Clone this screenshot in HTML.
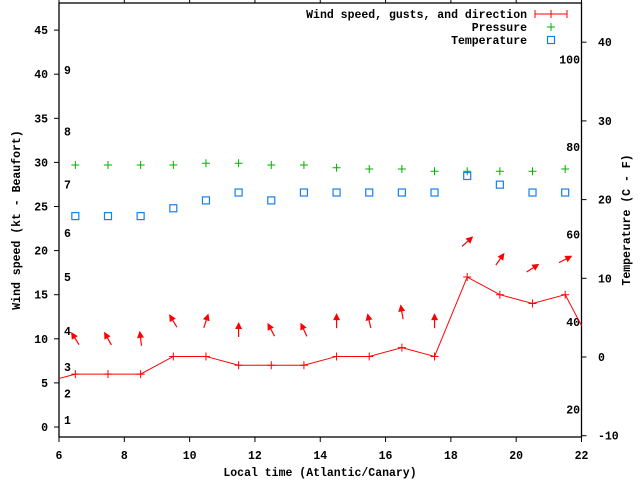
<!DOCTYPE html>
<html><head><meta charset="utf-8"><style>
html,body{margin:0;padding:0;background:#fff}
svg text{font-family:"Liberation Mono",monospace;font-size:11.5px;font-weight:bold;fill:#000}
</style></head><body>
<svg id="chart" width="640" height="480" xmlns="http://www.w3.org/2000/svg"></svg>
<script>
const hours=[6.5,7.5,8.5,9.5,10.5,11.5,12.5,13.5,14.5,15.5,16.5,17.5,18.5,19.5,20.5,21.5];
const windSpeed=[6,6,6,8,8,7,7,7,8,8,9,8,17,15,14,15];
const windEdgeHours=[5.5,22.5];
const windEdgeSpeed=[5,8];
const gusts=[10,10,10,12,12,11,11,11,12,12,13,12,21,19,18,19];
const windDir=[328,331,353,329,18,0,332,335,0,347,350,0,48,35,57,63];
const pressure=[29.7,29.7,29.7,29.7,29.9,29.9,29.7,29.7,29.4,29.25,29.25,29.0,29.0,29.0,29.0,29.25];
const temperature=[17.9,17.9,17.9,18.9,19.9,20.9,19.9,20.9,20.9,20.9,20.9,20.9,23,21.9,20.9,20.9];
const xTicks=[6,8,10,12,14,16,18,20,22];
const yTicks=[0,5,10,15,20,25,30,35,40,45];
const y2Ticks=[-10,0,10,20,30,40];
const fahrenheitLabels=[20,40,60,80,100];
const beaufortLabels=[1,2,3,4,5,6,7,8,9];
const beaufortY=[0.8,3.8,6.8,10.9,17,22,27.5,33.5,40.5];

const L=59,R=581.5,T=3,B=437;
const X=h=>L+(h-6)*(R-L)/16;
const Y=v=>427-v*8.82;
const Y2=c=>357-c*7.87;
const svg=document.getElementById('chart');
const NS='http://www.w3.org/2000/svg';
function mk(tag,attrs,parent){const e=document.createElementNS(NS,tag);for(const k in attrs)e.setAttribute(k,attrs[k]);(parent||svg).appendChild(e);return e;}
function txt(x,y,s,anchor,parent){const t=mk('text',{x:x,y:y,'text-anchor':anchor||'start'},parent);t.textContent=s;return t;}

const defs=mk('defs',{});
const cp=mk('clipPath',{id:'clip'},defs);
mk('rect',{x:L,y:T,width:R-L,height:B-T},cp);

// frame
const frame=mk('rect',{x:L,y:T,width:R-L,height:B-T,fill:'none',stroke:'#000','stroke-width':1.3});



// x ticks
xTicks.forEach(h=>{
  const g=mk('g',{});
  
  
  mk('line',{x1:X(h),x2:X(h),y1:B,y2:B+5,stroke:'#000'},g);
  mk('line',{x1:X(h),x2:X(h),y1:T,y2:T-4,stroke:'#000'},g);
  txt(X(h),459,String(h),'middle',g);
});
yTicks.forEach(v=>{
  const g=mk('g',{});
  
  
  mk('line',{x1:L-5,x2:L,y1:Y(v),y2:Y(v),stroke:'#000'},g);
  txt(48,Y(v)+4,String(v),'end',g);
});
y2Ticks.forEach(c=>{
  const g=mk('g',{});
  
  
  mk('line',{x1:R,x2:R+5,y1:Y2(c),y2:Y2(c),stroke:'#000'},g);
  txt(598,Y2(c)+4,String(c),'start',g);
});
fahrenheitLabels.forEach(f=>{
  const t=txt(580,Y2((f-32)*5/9)+4,String(f),'end');
  
  
});
beaufortLabels.forEach((b,i)=>{
  const t=txt(64,Y(beaufortY[i])+4,String(b),'start');
  
  
});

// titles
const xt=txt(320,476,'Local time (Atlantic/Canary)','middle');


const yt=txt(0,0,'Wind speed (kt - Beaufort)','middle');
yt.setAttribute('transform','translate(20,220) rotate(-90)');


const y2t=txt(0,0,'Temperature (C - F)','middle');
y2t.setAttribute('transform','translate(630,220) rotate(-90)');



const plot=mk('g',{'clip-path':'url(#clip)'});



// wind line
const allH=[windEdgeHours[0]].concat(hours,[windEdgeHours[1]]);
const allW=[windEdgeSpeed[0]].concat(windSpeed,[windEdgeSpeed[1]]);
const wl=mk('polyline',{points:allH.map((h,i)=>X(h)+','+Y(allW[i])).join(' '),fill:'none',stroke:'#f00','stroke-width':1},plot);


hours.forEach((h,i)=>{
  const p=mk('path',{d:`M${X(h)-4},${Y(windSpeed[i])}h8M${X(h)},${Y(windSpeed[i])-4}v8`,stroke:'#f00','stroke-width':1},plot);
  
  
});
// arrows
hours.forEach((h,i)=>{
  const a=windDir[i]*Math.PI/180,len=14;
  const cx=X(h),cy=Y(gusts[i]);
  const dx=Math.sin(a)*len/2,dy=-Math.cos(a)*len/2;
  const x1=cx-dx,y1=cy-dy,x2=cx+dx,y2=cy+dy;
  const g=mk('g',{},plot);
  
  
  mk('line',{x1:x1,y1:y1,x2:x2,y2:y2,stroke:'#f00','stroke-width':1.2},g);
  const ux=Math.sin(a),uy=-Math.cos(a),px=-uy,py=ux;
  const bx=x2-ux*6,by=y2-uy*6;
  mk('polygon',{points:`${x2+ux},${y2+uy} ${bx+px*3.5},${by+py*3.5} ${bx-px*3.5},${by-py*3.5}`,fill:'#f00'},g);
});
// pressure
hours.forEach((h,i)=>{
  const p=mk('path',{d:`M${X(h)-4},${Y(pressure[i])}h8M${X(h)},${Y(pressure[i])-4}v8`,stroke:'#00b000','stroke-width':1},plot);
  
  
});
// temperature
hours.forEach((h,i)=>{
  const r=mk('rect',{x:X(h)-3.5,y:Y2(temperature[i])-3.5,width:7,height:7,fill:'none',stroke:'#1a7fe8','stroke-width':1.2},plot);
  
  
});

// legend
const lg=mk('g',{});


const e1=mk('g',{},lg);


txt(527,18,'Wind speed, gusts, and direction','end',e1);
mk('path',{d:'M535,14h32M535,10v8M567,10v8M551,10v8',stroke:'#f00','stroke-width':1},e1);
const e2=mk('g',{},lg);


txt(527,31,'Pressure','end',e2);
mk('path',{d:'M547,27h8M551,23v8',stroke:'#00b000','stroke-width':1},e2);
const e3=mk('g',{},lg);


txt(527,44,'Temperature','end',e3);
mk('rect',{x:547.5,y:36.5,width:7,height:7,fill:'none',stroke:'#1a7fe8','stroke-width':1.2},e3);
</script>
</body></html>
